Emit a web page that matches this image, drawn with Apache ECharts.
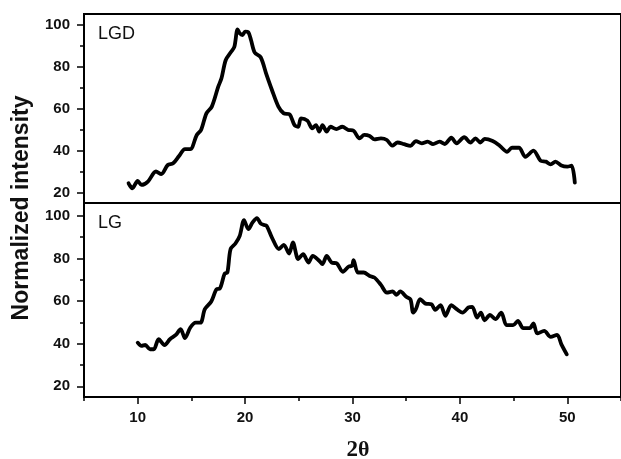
<!DOCTYPE html>
<html>
<head>
<meta charset="utf-8">
<script src="https://cdn.jsdelivr.net/npm/echarts@6/dist/echarts.min.js"></script>
<style>html,body{margin:0;padding:0;background:#fff}#c{width:621px;height:459px}</style>
</head>
<body>
<div id="c"></div>
<script>
// ---- data ----
const lgdX = [9.15,9.5,10,10.35,10.95,11.7,12.2,12.8,13.3,13.85,14.4,14.9,15.5,15.9,16.4,16.9,17.5,17.8,18.2,18.7,19.0,19.3,19.5,19.75,20.0,20.3,20.55,20.9,21.45,22.0,22.5,23.1,23.6,24.15,24.6,24.95,25.2,25.8,26.25,26.6,26.9,27.2,27.6,27.95,28.5,29.05,29.6,30.1,30.65,31.1,31.6,32.05,32.65,33.2,33.7,34.2,34.8,35.4,35.9,36.45,37,37.5,38.1,38.6,39.2,39.7,40.4,41,41.45,41.9,42.3,43.05,43.7,44.4,44.85,45.5,46.1,46.85,47.5,48.0,48.45,48.9,49.45,50,50.4,50.7];
const lgdY = [24.4,22,25.5,23.6,25.2,30,28.8,33.1,33.9,37.4,40.7,40.7,47.4,49.8,57.7,60.9,70.4,74.4,83.1,87,89.4,97.7,95.8,95,96.6,96.3,92.6,86.6,84.4,76,68.8,60.9,57.7,57.2,52.1,51.3,55.3,54.2,50.6,52.1,49,52.1,49,51.3,50.2,51.3,49.8,49.4,45.8,47.4,46.9,45.3,45.8,45,42.3,43.8,43,42.2,44.5,43.4,44.2,43,44.2,43.1,46.1,43.4,46.3,43.8,45.8,43.8,45.5,44.5,42.3,39.4,41.3,41.3,37,39.9,35.2,34.7,33.4,34.7,32.8,32.3,32.8,24.7];
const lgX = [10,10.35,10.7,11.15,11.5,11.95,12.5,13,13.55,14.0,14.4,14.9,15.4,15.85,16.25,16.85,17.35,17.65,18.1,18.35,18.65,19.1,19.5,19.9,20.3,20.7,21.1,21.45,21.7,22,22.5,23.15,23.6,24.1,24.45,24.95,25.4,25.9,26.3,26.9,27.2,27.6,28.05,28.55,29.1,29.65,29.95,30.1,30.5,31.05,31.6,32.05,32.65,33.2,33.75,34.1,34.45,35,35.4,35.65,35.9,36.3,36.8,37.35,37.7,38.2,38.65,39.2,39.7,40.25,40.8,41.15,41.6,41.95,42.3,42.8,43.3,43.85,44.35,44.95,45.4,45.9,46.5,46.85,47.2,47.85,48.45,49.05,49.45,49.95];
const lgY = [40.5,39,39.4,37.4,37.4,42.1,39.4,42.1,44.1,46.8,42.6,47.6,49.9,49.9,56.2,59.8,65.6,65.9,72.9,73.4,84.4,87,90.6,98,93.7,96.9,98.9,96.4,95.8,95.3,89.8,84.4,86.4,82.3,87.5,79.7,82,78.1,81.2,78.9,77.3,81.2,78.1,77.6,73.7,76.2,76.5,79.2,73.4,73.4,71.8,71,67.6,64,64.5,62.9,64.5,62,60.7,54.6,56.2,60.9,58.8,58.5,55.9,58.1,53.1,58.1,56.2,54.6,57,57.3,52.3,54.6,51,53.5,51.5,54.6,48.7,48.7,50.7,47.3,47.3,49.5,44.8,46,43.2,44.1,39.7,35];
const yMajor = [20,40,60,80,100];
const yMinor = [30,50,70,90];
const xMajor = [10,20,30,40,50];
const xMinor = [5,15,25,35,45,55];
const panelLabels = ['LGD','LG'];

const zip = (xs, ys) => xs.map((x, i) => [x, ys[i]]);
const font = 'Liberation Sans, Arial, sans-serif';
const labelStyle = {fontFamily: font, fontWeight: 'bold', fontSize: 15, color: '#111'};

function yAxes(grid, min, max) {
  return [
    {type:'value', gridIndex:grid, min:min, max:max, position:'left',
     axisLine:{show:true, lineStyle:{color:'#000', width:2}},
     axisTick:{show:true, length:7, customValues:yMajor, lineStyle:{color:'#000', width:1.5}},
     axisLabel:Object.assign({customValues:yMajor, margin:14}, labelStyle),
     splitLine:{show:false}},
    {type:'value', gridIndex:grid, min:min, max:max, position:'left',
     axisLine:{show:false},
     axisTick:{show:true, length:4, customValues:yMinor, lineStyle:{color:'#000', width:1.5}},
     axisLabel:{show:false}, splitLine:{show:false}}
  ];
}

const chart = echarts.init(document.getElementById('c'));
chart.setOption({
  animation:false,
  backgroundColor:'#fff',
  grid:[
    {left:84, top:14, height:189, right:-10, show:true, borderColor:'#000', borderWidth:2},
    {left:84, top:203, height:194, right:-10, show:true, borderColor:'#000', borderWidth:2}
  ],
  xAxis:[
    {type:'value', gridIndex:0, min:5, max:55, axisLine:{show:false}, axisTick:{show:false}, axisLabel:{show:false}, splitLine:{show:false}},
    {type:'value', gridIndex:1, min:5, max:55, position:'bottom',
     axisLine:{show:true, lineStyle:{color:'#000', width:2}},
     axisTick:{show:true, length:7, customValues:xMajor, lineStyle:{color:'#000', width:1.5}},
     axisLabel:Object.assign({customValues:xMajor, margin:13}, labelStyle),
     splitLine:{show:false}},
    {type:'value', gridIndex:1, min:5, max:55, position:'bottom',
     axisLine:{show:false},
     axisTick:{show:true, length:4, customValues:xMinor, lineStyle:{color:'#000', width:1.5}},
     axisLabel:{show:false}, splitLine:{show:false}}
  ],
  yAxis: yAxes(0, 15, 105).concat(yAxes(1, 15, 106)),
  series:[
    {type:'line', xAxisIndex:0, yAxisIndex:0, data:zip(lgdX, lgdY), showSymbol:false, smooth:0.3,
     lineStyle:{color:'#000', width:3.8, join:'round', cap:'round'}},
    {type:'line', xAxisIndex:1, yAxisIndex:2, data:zip(lgX, lgY), showSymbol:false, smooth:0.3,
     lineStyle:{color:'#000', width:3.8, join:'round', cap:'round'}}
  ],
  graphic:[
    {type:'text', left:98, top:25, style:{text:panelLabels[0], font:'18px ' + font, fill:'#111'}},
    {type:'text', left:98, top:214, style:{text:panelLabels[1], font:'18px ' + font, fill:'#111'}},
    {type:'text', x:22, y:208, rotation:Math.PI/2,
     style:{text:'Normalized intensity', font:'bold 23px ' + font, fill:'#111', align:'center', verticalAlign:'middle'}},
    {type:'text', x:358, y:450,
     style:{text:'{a|2}{b|θ}', align:'center', verticalAlign:'middle',
       rich:{a:{fontFamily:'Liberation Serif, Times New Roman, serif', fontWeight:'bold', fontSize:23, fill:'#111'},
             b:{fontFamily:'Liberation Serif, Times New Roman, serif', fontWeight:'bold', fontSize:22, fill:'#111'}}}}
  ]
});
</script>
</body>
</html>
